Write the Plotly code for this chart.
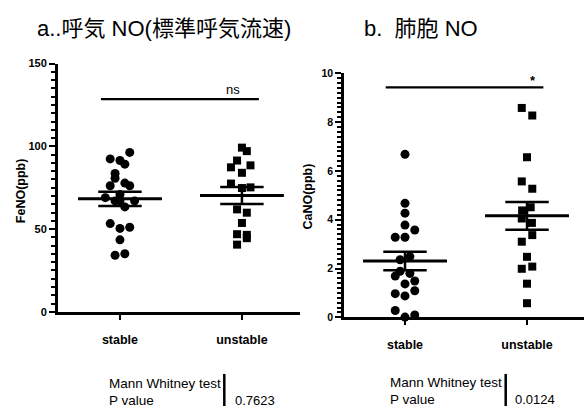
import plotly.graph_objects as go

# ---------------- data ----------------
categories = ["stable", "unstable"]

feno_stable = [96.3, 92.4, 91.4, 89.2, 83.6, 80.7, 76.2, 77.8, 76.2, 69.0, 70.9,
               67.0, 67.0, 67.0, 63.4, 53.3, 50.4, 51.1, 43.5, 34.2, 35.1]
feno_stable_jit = [0.08, -0.08, 0.0, 0.04, -0.04, -0.04, -0.08, 0.04, 0.08, -0.12, 0.0,
                   -0.04, 0.0, 0.12, 0.04, -0.08, 0.0, 0.08, 0.0, -0.04, 0.04]
feno_unstable = [99.2, 97.1, 91.4, 88.5, 87.3, 84.0, 77.5, 75.2, 74.8, 61.9, 59.9,
                 53.7, 46.9, 46.5, 44.5, 40.6]
feno_unstable_jit = [0.0, 0.04, -0.04, 0.07, -0.09, 0.0, -0.09, 0.07, 0.0, -0.04, 0.04,
                     0.0, -0.04, 0.04, 0.04, -0.04]

cano_stable = [6.68, 4.67, 4.27, 3.78, 3.58, 3.28, 3.28, 2.49, 2.36, 1.89, 1.80,
               1.69, 1.49, 1.37, 1.09, 0.97, 0.88, 0.28, 0.01, 0.10]
cano_stable_jit = [0.0, 0.0, 0.0, 0.0, 0.08, -0.08, 0.0, 0.04, -0.04, -0.04, 0.04,
                   -0.08, 0.08, 0.0, 0.08, -0.08, 0.0, -0.08, 0.0, 0.08]
cano_unstable = [8.58, 8.27, 6.56, 5.57, 5.27, 4.38, 4.51, 4.05, 3.87, 3.37, 3.10,
                 2.48, 2.08, 1.99, 1.38, 0.58]
cano_unstable_jit = [-0.043, 0.043, 0.0, -0.043, 0.043, -0.04, 0.03, -0.043, 0.04, 0.043, -0.043,
                     0.0, 0.043, -0.043, 0.0, 0.0]

feno_mean = [68.3, 70.3]
feno_sem = [4.3, 5.1]
cano_mean = [2.31, 4.16]
cano_sem = [0.375, 0.57]

feno_sig = 128.5
cano_sig = 9.42
feno_label = "ns"
cano_label = "*"

feno_p = "0.7623"
cano_p = "0.0124"

title_a = "a..呼気 NO(標準呼気流速)"
title_b = "b.\u00a0\u00a0肺胞 NO"

W, H = 584, 412
LAT = "Liberation Sans, Arial, Helvetica, sans-serif"
TFONT = "Liberation Sans, Arial, Noto Sans CJK JP, sans-serif"


def px(x):
    return x / W


def py(y):
    return (H - y) / H


fig = go.Figure()

MEAN_HW = 0.344
CAP_HW = 0.178


def add_group(xref, yref, vals, jit, pos, symbol, size):
    fig.add_trace(go.Scatter(
        x=[pos + j for j in jit], y=vals, mode="markers",
        marker=dict(symbol=symbol, size=size, color="black", line=dict(width=0)),
        xaxis=xref, yaxis=yref, cliponaxis=False, showlegend=False))


def add_stats(xref, yref, means, sems):
    xs, ys = [], []
    for i, (m, s) in enumerate(zip(means, sems)):
        c = i + 1
        xs += [c - MEAN_HW, c + MEAN_HW, None]
        ys += [m, m, None]
    fig.add_trace(go.Scatter(x=xs, y=ys, mode="lines", line=dict(color="black", width=3),
                             xaxis=xref, yaxis=yref, showlegend=False, hoverinfo="skip"))
    xs, ys = [], []
    for i, (m, s) in enumerate(zip(means, sems)):
        c = i + 1
        xs += [c - CAP_HW, c + CAP_HW, None, c - CAP_HW, c + CAP_HW, None, c, c, None]
        ys += [m + s, m + s, None, m - s, m - s, None, m - s, m + s, None]
    fig.add_trace(go.Scatter(x=xs, y=ys, mode="lines", line=dict(color="black", width=2.5),
                             xaxis=xref, yaxis=yref, showlegend=False, hoverinfo="skip"))


def add_sig(xref, yref, yv, x0, x1):
    fig.add_trace(go.Scatter(x=[x0, x1], y=[yv, yv], mode="lines",
                             line=dict(color="black", width=2.2),
                             xaxis=xref, yaxis=yref, showlegend=False, hoverinfo="skip"))


# left panel
add_group("x", "y", feno_stable, feno_stable_jit, 1, "circle", 9)
add_group("x", "y", feno_unstable, feno_unstable_jit, 2, "square", 8)
add_stats("x", "y", feno_mean, feno_sem)
add_sig("x", "y", feno_sig, 0.844, 2.139)

# right panel
add_group("x2", "y2", cano_stable, cano_stable_jit, 1, "circle", 9)
add_group("x2", "y2", cano_unstable, cano_unstable_jit, 2, "square", 8)
add_stats("x2", "y2", cano_mean, cano_sem)
add_sig("x2", "y2", cano_sig, 0.842, 2.134)

# invisible traces so the minor-tick overlay axes get drawn
fig.add_trace(go.Scatter(x=[1], y=[0], mode="markers", marker=dict(opacity=0),
                         xaxis="x", yaxis="y3", showlegend=False, hoverinfo="skip"))
fig.add_trace(go.Scatter(x=[1], y=[0], mode="markers", marker=dict(opacity=0),
                         xaxis="x2", yaxis="y4", showlegend=False, hoverinfo="skip"))

axis_common = dict(showline=True, linecolor="black", linewidth=3, showgrid=False,
                   zeroline=False, ticks="outside", tickcolor="black",
                   tickfont=dict(family=LAT, size=11, color="black", weight="bold"))

minor_common = dict(showline=True, linecolor="black", linewidth=3,
                    showgrid=False, zeroline=False, ticks="outside",
                    tickcolor="black", ticklen=4, tickwidth=1.5, showticklabels=False,
                    tickmode="linear", tick0=0, side="left")

fig.update_layout(
    width=W, height=H, margin=dict(l=0, r=0, t=0, b=0),
    paper_bgcolor="white", plot_bgcolor="white", showlegend=False,
    xaxis=dict(axis_common, domain=[px(58), px(300)], range=[0.492, 2.476],
               tickvals=[1, 2], ticktext=categories, ticklen=5, tickwidth=2,
               ticklabelstandoff=9,
               tickfont=dict(family=LAT, size=12.5, color="black", weight="bold"),
               anchor="y"),
    yaxis=dict(axis_common, domain=[py(315), py(59.3)], range=[0, 150],
               tickmode="linear", tick0=0, dtick=50, ticklen=6, tickwidth=2,
               anchor="x"),
    yaxis3=dict(minor_common, overlaying="y", anchor="x", range=[0, 150], dtick=5),
    xaxis2=dict(axis_common, domain=[px(344.3), 1.0], range=[0.5025, 2.467],
                tickvals=[1, 2], ticktext=categories, ticklen=5, tickwidth=2,
                ticklabelstandoff=9,
                tickfont=dict(family=LAT, size=12.5, color="black", weight="bold"),
                anchor="y2"),
    yaxis2=dict(axis_common, domain=[py(320.7), py(69.3)], range=[0, 10],
                tickmode="linear", tick0=0, dtick=2, ticklen=6, tickwidth=2,
                tickfont=dict(family=LAT, size=10.5, color="black", weight="bold"),
                anchor="x2"),
    yaxis4=dict(minor_common, overlaying="y2", anchor="x2", range=[0, 10], dtick=0.2),
)

ann = []
# titles
ann.append(dict(text=title_a, x=px(35), y=py(23), xanchor="left", yanchor="middle",
                font=dict(family=TFONT, size=22, color="black")))
ann.append(dict(text=title_b, x=px(362), y=py(23), xanchor="left", yanchor="middle",
                font=dict(family=TFONT, size=22, color="black")))
# y axis titles
ann.append(dict(text="FeNO(ppb)", x=px(21.7), y=py(190), textangle=-90,
                xanchor="center", yanchor="middle",
                font=dict(family=LAT, size=12.5, color="black", weight="bold")))
ann.append(dict(text="CaNO(ppb)", x=px(308.3), y=py(196), textangle=-90,
                xanchor="center", yanchor="middle",
                font=dict(family=LAT, size=12.5, color="black", weight="bold")))
# significance labels (data coords)
ann.append(dict(text=feno_label, x=1.93, y=feno_sig, xref="x", yref="y",
                xanchor="center", yanchor="bottom", yshift=0,
                font=dict(family=LAT, size=13, color="black")))
ann.append(dict(text=cano_label, x=2.05, y=cano_sig, xref="x2", yref="y2",
                xanchor="center", yanchor="bottom", yshift=-3,
                font=dict(family=LAT, size=13, color="black", weight="bold")))
# Mann Whitney tables
for (xl, xv, ym, yp, pv) in [(106.7, 233.3, 389, 406, feno_p), (388.3, 512.7, 388.3, 405, cano_p)]:
    ann.append(dict(text="Mann Whitney test", x=px(xl), y=py(ym), xanchor="left", yanchor="middle",
                    font=dict(family=LAT, size=13.5, color="black")))
    ann.append(dict(text="P value", x=px(xl), y=py(yp), xanchor="left", yanchor="middle",
                    font=dict(family=LAT, size=13.5, color="black")))
    ann.append(dict(text=pv, x=px(xv), y=py(yp), xanchor="left", yanchor="middle",
                    font=dict(family=LAT, size=13, color="black")))
for a in ann:
    a.setdefault("xref", "paper")
    a.setdefault("yref", "paper")
    a["showarrow"] = False
fig.update_layout(annotations=ann)

shapes = []
for xv in [224.3, 505.7]:
    shapes.append(dict(type="line", xref="paper", yref="paper", x0=px(xv), x1=px(xv),
                       y0=py(379), y1=py(412), line=dict(color="black", width=2.5)))
fig.update_layout(shapes=shapes)

fig.write_html("out.html")
